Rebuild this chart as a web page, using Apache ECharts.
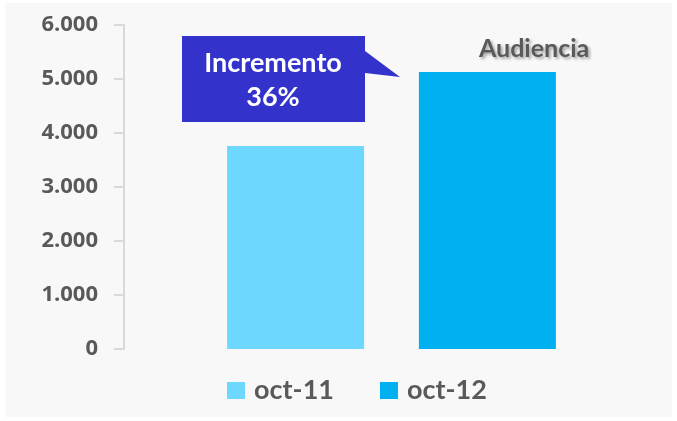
<!DOCTYPE html>
<html>
<head>
<meta charset="utf-8">
<script src="https://cdn.jsdelivr.net/npm/echarts@6/dist/echarts.min.js"></script>
<style>
  html, body { margin: 0; padding: 0; background: #ffffff; }
  #chart { width: 677px; height: 421px; }
</style>
</head>
<body>
<div id="chart"></div>
<script>
// datos
var categorias = ['Audiencia'];
var serieNombres = ['oct-11', 'oct-12'];
var valoresOct11 = [3760];
var valoresOct12 = [5130];
var colores = ['#6dd7fd', '#00b0f0'];
var textoIncremento = 'Incremento\n36%';

var grisTexto = '#595959';

function formatoMiles(v) {
    return String(v).replace(/\B(?=(\d{3})+(?!\d))/g, '.');
}

var chart = echarts.init(document.getElementById('chart'));

var option = {
    backgroundColor: '#ffffff',
    animation: false,
    title: {
        text: 'Audiencia',
        left: 474,
        top: 31,
        textStyle: {
            fontFamily: 'Lato',
            fontWeight: 'bold',
            fontSize: 25,
            color: grisTexto,
            textShadowColor: 'rgba(0,0,0,0.35)',
            textShadowBlur: 3,
            textShadowOffsetX: 2,
            textShadowOffsetY: 2
        }
    },
    legend: {
        data: serieNombres,
        bottom: 12,
        left: 222,
        itemWidth: 18,
        itemHeight: 17,
        itemGap: 46,
        icon: 'rect',
        textStyle: {
            fontFamily: 'Lato',
            fontWeight: 'bold',
            fontSize: 27,
            color: grisTexto,
            padding: [0, 0, 0, 4]
        }
    },
    grid: {
        left: 124,
        right: 18,
        top: 25,
        bottom: 72,
        containLabel: false
    },
    xAxis: {
        type: 'category',
        data: categorias,
        axisLine: { show: false },
        axisTick: { show: false },
        axisLabel: { show: false }
    },
    yAxis: {
        type: 'value',
        min: 0,
        max: 6000,
        interval: 1000,
        splitLine: { show: false },
        axisLine: { show: true, lineStyle: { color: '#d9d9d9', width: 2 } },
        axisTick: { show: true, length: 10, lineStyle: { color: '#d9d9d9', width: 2 } },
        axisLabel: {
            margin: 26,
            fontFamily: 'Open Sans',
            fontWeight: 'bold',
            fontSize: 22,
            color: grisTexto,
            formatter: formatoMiles
        }
    },
    series: [
        {
            name: serieNombres[0],
            type: 'bar',
            data: valoresOct11,
            barWidth: 137,
            barGap: '40%',
            itemStyle: { color: colores[0] }
        },
        {
            name: serieNombres[1],
            type: 'bar',
            data: valoresOct12,
            barWidth: 137,
            itemStyle: { color: colores[1] }
        }
    ],
    graphic: [
        {
            type: 'rect',
            z: -10,
            silent: true,
            shape: { x: 5, y: 3, width: 667, height: 414 },
            style: { fill: '#f8f8f8' }
        },
        {
            // globo del incremento
            type: 'polygon',
            z: 100,
            shape: {
                points: [[182, 36], [365, 36], [365, 51], [400, 77], [365, 73], [365, 122], [182, 122]]
            },
            style: { fill: '#3333cc' }
        },
        {
            type: 'text',
            z: 101,
            x: 273,
            y: 80,
            style: {
                text: textoIncremento,
                align: 'center',
                verticalAlign: 'middle',
                fill: '#ffffff',
                fontFamily: 'Lato',
                fontWeight: 'bold',
                fontSize: 27,
                lineHeight: 34
            }
        }
    ]
};

chart.setOption(option);
</script>
</body>
</html>
